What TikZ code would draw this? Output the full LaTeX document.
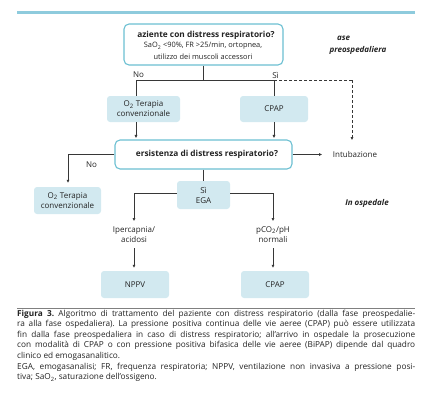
\documentclass[tikz,border=0pt]{standalone}
\usepackage{fontspec}
\setmainfont{Open Sans}
\usetikzlibrary{arrows.meta,calc}
\definecolor{barblue}{RGB}{142,203,221}
\definecolor{boxblue}{RGB}{210,233,240}
\definecolor{edgeteal}{RGB}{108,192,210}
\definecolor{linegray}{RGB}{55,55,55}
\definecolor{txtgray}{RGB}{35,35,35}
\frenchspacing
\begin{document}
\begin{tikzpicture}[x=1pt,y=-1pt,
  every node/.style={font=\fontsize{8}{9.5}\selectfont,text=txtgray,inner sep=0pt},
  qbox/.style={draw=edgeteal,line width=1.1pt,rounded corners=5pt,fill=white,align=center},
  fbox/.style={fill=boxblue,rounded corners=3pt,align=center},
  conn/.style={draw=linegray,line width=0.7pt},
  arr/.style={conn,-{Triangle[length=3pt,width=2.6pt]}},
  lbl/.style={align=center}]
\useasboundingbox (0,0) rectangle (431,402);
\draw[barblue,line width=3pt] (17,12) -- (415,12);
% top question
\node[qbox,minimum width=159pt,minimum height=41pt] (top) at (203.5,44.5) {};
\node[font=\fontsize{8.3}{9.5}\selectfont\bfseries] (topt) at (206,35) {aziente con distress respiratorio?};
\node[font=\fontsize{7.4}{9}\selectfont] (tops1) at (203,46) {SaO\textsubscript{2} <90\%, FR >25/min, ortopnea,};
\node[font=\fontsize{7.4}{9}\selectfont] (tops2) at (203,56.5) {utilizzo dei muscoli accessori};
\node[font=\fontsize{8}{9.5}\selectfont\bfseries\itshape] (fase1) at (343.5,38) {ase};
\node[font=\fontsize{8}{9.5}\selectfont\bfseries\itshape] (fase2) at (358,50) {preospedaliera};
% first level
\coordinate (s1) at (203,80);
\coordinate (sl) at (136,80);
\coordinate (sr) at (274,80);
\coordinate (sd) at (352,80);
\node (no1) at (138.5,75) {No};
\node (si1) at (275.5,75) {Sì};
\node[fbox,minimum width=73pt,minimum height=26pt] (o2a) at (143.5,109) {O\textsubscript{2} Terapia\\[0.5pt]convenzionale};
\node[fbox,minimum width=68pt,minimum height=26pt] (cpap1) at (274,109) {CPAP};
% second question
\node[qbox,minimum width=177pt,minimum height=29pt] (q2) at (203.5,154.5) {};
\node[font=\fontsize{8.3}{9.5}\selectfont\bfseries] (q2t) at (207,154.5) {ersistenza di distress respiratorio?};
\node (intub) at (355,154) {Intubazione};
\node (no2) at (91.5,165) {No};
\node[fbox,minimum width=67pt,minimum height=27pt] (o2b) at (67.5,200.5) {O\textsubscript{2} Terapia\\[0.5pt]convenzionale};
\node[fbox,minimum width=53pt,minimum height=28pt] (ega) at (203.5,195) {Sì\\[0.5pt]EGA};
\node[font=\fontsize{8}{9.5}\selectfont\bfseries\itshape] (osp) at (367,203) {In ospedale};
\node[lbl] (ipe) at (134,234.5) {Ipercapnia/\\[0.5pt]acidosi};
\node[lbl] (pco) at (273,234.5) {pCO\textsubscript{2}/pH\\[0.5pt]normali};
\node[fbox,minimum width=68pt,minimum height=27pt] (nppv) at (135,284.5) {NPPV};
\node[fbox,minimum width=68pt,minimum height=27pt] (cpap2) at (275,284.5) {CPAP};
% connectors
\draw[conn] (top.south -| s1) -- (s1);
\draw[conn] (sl |- o2a.north) -- (sl) -- (sr) -- (sr |- cpap1.north);
\draw[conn,dashed,dash pattern=on 3pt off 2pt] (sr) -- (sd);
\coordinate (dend) at (352,140);
\draw[arr,dashed,dash pattern=on 3pt off 2pt] (sd) -- (dend);
\draw[arr] (sl |- o2a.south) -- ($(sl |- q2.north)+(0,-1.5)$);
\draw[arr] (sr |- cpap1.south) -- ($(sr |- q2.north)+(0,-1.5)$);
\coordinate (ie) at (322,154.5);
\draw[arr] (q2.east) -- (ie);
\coordinate (lc) at (68,154.5);
\draw[arr] (q2.west) -- (lc) -- ($(lc |- o2b.north)+(0,-4)$);
\draw[conn] (q2.south -| s1) -- (ega.north -| s1);
\coordinate (el) at (134,193);
\coordinate (er) at (273,193);
\draw[arr] (ega.west |- el) -- (el) -- (134,221);
\draw[arr] (ega.east |- er) -- (er) -- (273,221);
\draw[arr] (134,248) -- ($(134,0 |- nppv.north)+(0,-3)$);
\draw[arr] (273,248) -- ($(273,0 |- cpap2.north)+(0,-3)$);
% rule and caption
\draw[gray,line width=0.6pt] (17,308) -- (415,308);
\node[anchor=north west,text width=398pt,align=justify,font=\fontsize{8.25}{10.6}\selectfont] (cap) at (17,309.5) {%
\textbf{Figura 3.} Algoritmo di trattamento del paziente con distress respiratorio (dalla fase preospedalie-\linebreak ra alla fase ospedaliera). La pressione positiva continua delle vie aeree (CPAP) può essere utilizzata\linebreak fin dalla fase preospedaliera in caso di distress respiratorio; all’arrivo in ospedale la prosecuzione\linebreak con modalità di CPAP o con pressione positiva bifasica delle vie aeree (BiPAP) dipende dal quadro\linebreak clinico ed emogasanalitico.\par
EGA, emogasanalisi; FR, frequenza respiratoria; NPPV, ventilazione non invasiva a pressione posi-\linebreak tiva; SaO\textsubscript{2}, saturazione dell’ossigeno.};
\end{tikzpicture}
\end{document}
